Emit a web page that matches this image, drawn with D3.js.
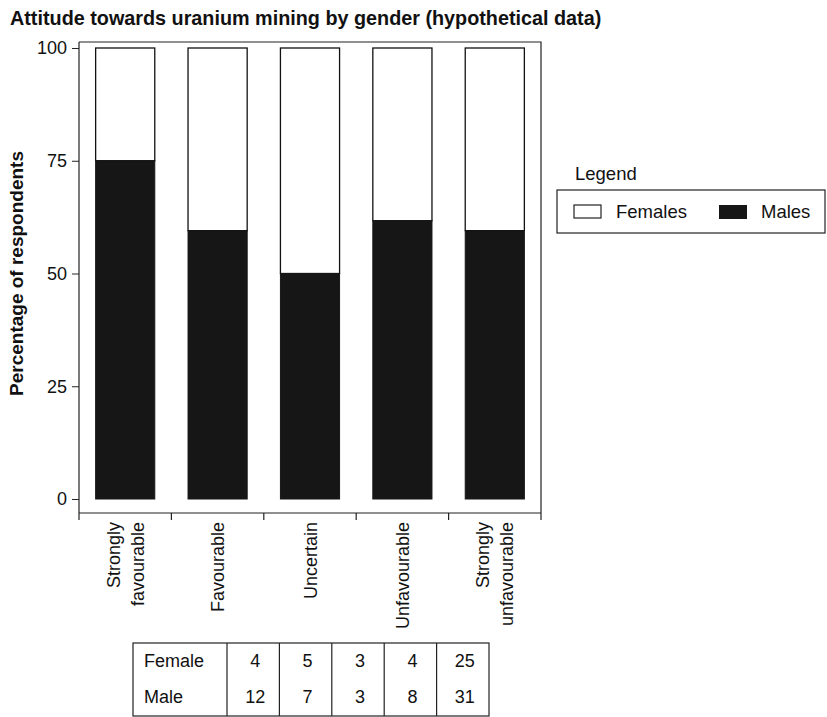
<!DOCTYPE html>
<html>
<head>
<meta charset="utf-8">
<script src="https://cdn.jsdelivr.net/npm/d3@7"></script>
<style>
  body { margin: 0; background: #fff; }
  svg text { font-family: "Liberation Sans", Arial, sans-serif; fill: #111; }
</style>
</head>
<body>
<div id="chart"></div>
<script>
// data
var categories = ["Strongly favourable", "Favourable", "Uncertain", "Unfavourable", "Strongly unfavourable"];
var catLines = [["Strongly", "favourable"], ["Favourable"], ["Uncertain"], ["Unfavourable"], ["Strongly", "unfavourable"]];
var malePct = [75, 59.5, 50, 61.7, 59.5];     // height of the black part
var femaleCount = [4, 5, 3, 4, 25];
var maleCount = [12, 7, 3, 8, 31];
var yTicks = [0, 25, 50, 75, 100];

var width = 827, height = 717;
var svg = d3.select("#chart").append("svg")
    .attr("width", width)
    .attr("height", height);

// plot frame
var frame = {left: 79, right: 541, top: 42, bottom: 513};

var xScale = d3.scaleBand()
    .domain(categories)
    .range([frame.left, frame.right])
    .paddingInner(0.36)
    .paddingOuter(0.18);
var yScale = d3.scaleLinear()
    .domain([0, 100])
    .range([499, 48]);

// title
svg.append("text")
    .attr("x", 10).attr("y", 25)
    .attr("font-size", 19.8).attr("font-weight", "bold")
    .text("Attitude towards uranium mining by gender (hypothetical data)");

// frame top + right
svg.append("path")
    .attr("d", "M" + frame.left + "," + frame.top + "H" + frame.right + "V" + frame.bottom)
    .attr("fill", "none").attr("stroke", "#222").attr("stroke-width", 1.2);

// y axis
var yAxis = svg.append("g")
    .attr("transform", "translate(" + frame.left + ",0)")
    .call(d3.axisLeft(yScale).tickValues(yTicks).tickSize(7).tickPadding(5));
yAxis.select(".domain").attr("d", "M0," + frame.top + "V" + frame.bottom).attr("stroke", "#222").attr("stroke-width", 1.2);
yAxis.selectAll("text").attr("font-size", 18).style("font-family", "Liberation Sans, Arial, sans-serif").attr("fill", "#111");
yAxis.selectAll(".tick line").attr("stroke", "#222");

svg.append("text")
    .attr("transform", "translate(23," + yScale(50) + ") rotate(-90)")
    .attr("text-anchor", "middle")
    .attr("font-size", 19).attr("font-weight", "bold")
    .text("Percentage of respondents");

// x axis: ticks on category boundaries
var xAxisG = svg.append("g").attr("transform", "translate(0," + frame.bottom + ")");
xAxisG.append("line")
    .attr("x1", frame.left).attr("x2", frame.right)
    .attr("stroke", "#222").attr("stroke-width", 1.2);
var bounds = d3.range(categories.length + 1).map(function(i) {
    return frame.left + i * (frame.right - frame.left) / categories.length;
});
xAxisG.selectAll(".btick").data(bounds).enter().append("line")
    .attr("x1", d => d).attr("x2", d => d)
    .attr("y1", 0).attr("y2", 7)
    .attr("stroke", "#222").attr("stroke-width", 1.2);

// rotated category labels
var labels = svg.selectAll(".catlab").data(categories).enter().append("g")
    .attr("transform", (d, i) => "translate(" + (xScale(d) + xScale.bandwidth() / 2) + ",522) rotate(-90)");
labels.each(function(d, i) {
    var lines = catLines[i];
    var n = lines.length;
    d3.select(this).selectAll("text").data(lines).enter().append("text")
        .attr("text-anchor", "end")
        .attr("x", 0)
        .attr("y", (t, j) => (j - (n - 1) / 2) * 24 + 6.5)
        .attr("font-size", 18)
        .text(t => t);
});

// bars: female part (white) on top, male part (black) below
var bars = svg.selectAll(".bar").data(categories).enter().append("g");
bars.append("rect")
    .attr("x", d => xScale(d))
    .attr("width", xScale.bandwidth())
    .attr("y", yScale(100))
    .attr("height", (d, i) => yScale(malePct[i]) - yScale(100))
    .attr("fill", "#fff").attr("stroke", "#111").attr("stroke-width", 1.3);
bars.append("rect")
    .attr("x", d => xScale(d))
    .attr("width", xScale.bandwidth())
    .attr("y", (d, i) => yScale(malePct[i]))
    .attr("height", (d, i) => yScale(0) - yScale(malePct[i]))
    .attr("fill", "#161616").attr("stroke", "#161616").attr("stroke-width", 1);

// legend
svg.append("text").attr("x", 575).attr("y", 180).attr("font-size", 18.5).text("Legend");
svg.append("rect").attr("x", 557).attr("y", 190).attr("width", 268).attr("height", 43)
    .attr("fill", "#fff").attr("stroke", "#222").attr("stroke-width", 1.2);
svg.append("rect").attr("x", 574).attr("y", 205).attr("width", 27).attr("height", 13)
    .attr("fill", "#fff").attr("stroke", "#222").attr("stroke-width", 1.2);
svg.append("text").attr("x", 616).attr("y", 218).attr("font-size", 18.5).text("Females");
svg.append("rect").attr("x", 719).attr("y", 205).attr("width", 28).attr("height", 14)
    .attr("fill", "#161616");
svg.append("text").attr("x", 761).attr("y", 218).attr("font-size", 18.5).text("Males");

// counts table
var tbl = {left: 133, top: 643, right: 489, bottom: 716, firstCol: 227};
var colW = (tbl.right - tbl.firstCol) / categories.length;
svg.append("rect")
    .attr("x", tbl.left).attr("y", tbl.top)
    .attr("width", tbl.right - tbl.left).attr("height", tbl.bottom - tbl.top)
    .attr("fill", "none").attr("stroke", "#222").attr("stroke-width", 1.2);
d3.range(categories.length).forEach(function(i) {
    var cx = tbl.firstCol + i * colW;
    svg.append("line").attr("x1", cx).attr("x2", cx).attr("y1", tbl.top).attr("y2", tbl.bottom)
        .attr("stroke", "#222").attr("stroke-width", 1.2);
});
var rows = [["Female", femaleCount, 667], ["Male", maleCount, 703]];
rows.forEach(function(r) {
    svg.append("text").attr("x", 144).attr("y", r[2]).attr("font-size", 18).text(r[0]);
    svg.selectAll(null).data(r[1]).enter().append("text")
        .attr("x", (d, i) => tbl.firstCol + (i + 0.5) * colW + 2)
        .attr("y", r[2])
        .attr("text-anchor", "middle")
        .attr("font-size", 18)
        .text(d => d);
});
</script>
</body>
</html>
